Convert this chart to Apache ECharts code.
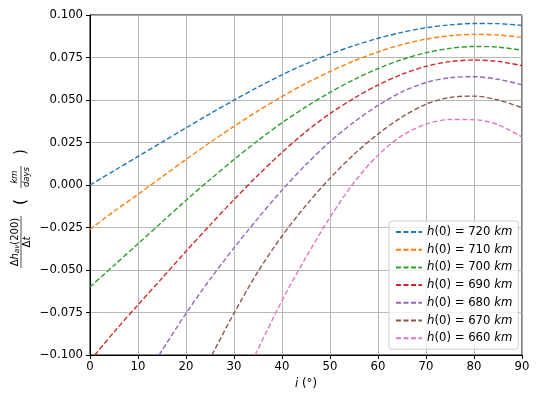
<!DOCTYPE html>
<html>
<head>
<meta charset="utf-8">
<script src="https://cdn.jsdelivr.net/npm/echarts@6/dist/echarts.min.js"></script>
<style>
html,body{margin:0;padding:0;background:#fff;}
#c{width:538px;height:398px;}
</style>
</head>
<body>
<div id="c"></div>
<script>
// ---- data ----
const angles = [0, 5, 10, 15, 20, 25, 30, 35, 40, 45, 50, 55, 60, 65, 70, 75, 80, 85, 90];
const heights = [720, 710, 700, 690, 680, 670, 660];
const h720 = [0.0000, 0.0084, 0.0168, 0.0252, 0.0336, 0.0419, 0.0499, 0.0576, 0.0648, 0.0713, 0.0770, 0.0820, 0.0863, 0.0898, 0.0925, 0.0942, 0.0950, 0.0949, 0.0939];
const h710 = [-0.0260, -0.0155, -0.0055, 0.0048, 0.0150, 0.0250, 0.0345, 0.0436, 0.0520, 0.0598, 0.0668, 0.0730, 0.0783, 0.0826, 0.0858, 0.0878, 0.0886, 0.0882, 0.0868];
const h700 = [-0.0600, -0.0473, -0.0346, -0.0218, -0.0090, 0.0032, 0.0150, 0.0262, 0.0366, 0.0460, 0.0545, 0.0620, 0.0685, 0.0738, 0.0778, 0.0804, 0.0815, 0.0811, 0.0793];
const h690 = [null, -0.0865, -0.0705, -0.0548, -0.0390, -0.0236, -0.0086, 0.0058, 0.0192, 0.0314, 0.0420, 0.0510, 0.0588, 0.0651, 0.0698, 0.0726, 0.0735, 0.0727, 0.0702];
const h680 = [null, null, null, null, -0.0755, -0.0555, -0.0370, -0.0195, -0.0030, 0.0120, 0.0255, 0.0370, 0.0468, 0.0548, 0.0603, 0.0631, 0.0637, 0.0622, 0.0590];
const h670 = [null, null, null, null, null, null, -0.0754, -0.0509, -0.0300, -0.0120, 0.0040, 0.0180, 0.0300, 0.0400, 0.0475, 0.0515, 0.0523, 0.0500, 0.0455];
const h660 = [null, null, null, null, null, null, null, null, -0.0680, -0.0425, -0.0190, 0.0015, 0.0175, 0.0290, 0.0358, 0.0385, 0.0384, 0.0355, 0.0282];
// angle where each curve enters through the bottom of the plot (y = -0.1)
const entryAngles = [null, null, null, 1.0, 14.4, 25.4, 34.4];
const bottomValue = -0.1;
const xTicks = { min: 0, max: 90, interval: 10 };
const yTicks = { min: -0.1, max: 0.1, interval: 0.025 };

const seriesValues = [h720, h710, h700, h690, h680, h670, h660];
const colors = ['#1f77b4', '#ff7f0e', '#2ca02c', '#d62728', '#9467bd', '#8c564b', '#e377c2'];
const FONT = 'DejaVu Sans';

const series = heights.map((h, s) => {
  const pts = [];
  if (entryAngles[s] !== null) pts.push([entryAngles[s], bottomValue]);
  angles.forEach((a, k) => { if (seriesValues[s][k] !== null) pts.push([a, seriesValues[s][k]]); });
  return {
    name: 'h(0) = ' + h + ' km',
    type: 'line',
    data: pts,
    smooth: 0.3,
    showSymbol: false,
    symbol: 'none',
    clip: true,
    lineStyle: { color: colors[s], width: 1.4, type: [5, 2.5] },
    itemStyle: { color: colors[s] },
    emphasis: { disabled: true }
  };
});

const chart = echarts.init(document.getElementById('c'), null, { renderer: 'canvas' });
const axisCommon = {
  axisLine: { show: true, onZero: false, lineStyle: { color: '#000', width: 1 } },
  axisTick: { show: true, inside: false, length: 4, lineStyle: { color: '#000', width: 1 } },
  splitLine: { show: true, lineStyle: { color: '#b0b0b0', width: 0.9 } },
  axisLabel: { color: '#000', fontSize: 11.7, fontFamily: FONT }
};

chart.setOption({
  animation: false,
  backgroundColor: '#fff',
  color: colors,
  grid: { left: 90, right: 16, top: 15, bottom: 43, show: true, borderColor: '#000', borderWidth: 1, backgroundColor: 'transparent' },
  xAxis: Object.assign({}, axisCommon, {
    type: 'value', min: xTicks.min, max: xTicks.max, interval: xTicks.interval,
    axisLabel: Object.assign({}, axisCommon.axisLabel, { margin: 6 }),
    name: '{it|i} (°)', nameLocation: 'middle', nameGap: 21,
    nameTextStyle: { color: '#000', fontSize: 11.7, fontFamily: FONT, rich: { it: { fontStyle: 'italic', fontSize: 11.7, fontFamily: FONT, color: '#000' } } }
  }),
  yAxis: Object.assign({}, axisCommon, {
    type: 'value', min: yTicks.min, max: yTicks.max, interval: yTicks.interval,
    axisLabel: Object.assign({}, axisCommon.axisLabel, {
      margin: 7,
      formatter: v => (Math.abs(v) < 1e-9 ? 0 : v).toFixed(3).replace('-', '\u2212')
    })
  }),
  legend: {
    orient: 'vertical', left: 389, top: 221,
    itemWidth: 26, itemHeight: 10, itemGap: 5.7, itemTextGap: 8,
    padding: [5, 6, 5, 6],
    backgroundColor: 'rgba(255,255,255,0.8)', borderColor: '#cccccc', borderWidth: 1, borderRadius: 3,
    itemStyle: { opacity: 0 },
    textStyle: { color: '#000', fontSize: 11.7, fontFamily: FONT,
      rich: { it: { fontStyle: 'italic', fontSize: 11.7, fontFamily: FONT, color: '#000' },
              n: { fontSize: 11.7, fontFamily: FONT, color: '#000' } } },
    formatter: name => {
      const m = name.match(/(\d+)/g);
      return '{it|h}{n|(0) = ' + m[1] + ' }{it|km}';
    },
    selectedMode: false,
    data: series.map(s => s.name)
  },
  graphic: [{
    type: 'group', x: 21, y: 210, rotation: Math.PI / 2, silent: true,
    children: [
      { type: 'text', x: -32, y: -6, style: {
          text: '{n|Δ}{i|h}{s|av}{n|(200)}', align: 'center', verticalAlign: 'middle',
          fill: '#000', font: '10px "DejaVu Sans"',
          rich: { n: { fontSize: 10, fontFamily: FONT, fill: '#000' },
                  i: { fontSize: 10, fontFamily: FONT, fontStyle: 'italic', fill: '#000' },
                  s: { fontSize: 7, fontFamily: FONT, fontStyle: 'italic', fill: '#000', verticalAlign: 'bottom', padding: [4, 0, 0, 0] } } } },
      { type: 'line', shape: { x1: -58, y1: 0, x2: -6, y2: 0 }, style: { stroke: '#000', lineWidth: 0.7 } },
      { type: 'text', x: -32, y: 6, style: {
          text: '{n|Δ}{i|t}', align: 'center', verticalAlign: 'middle', fill: '#000',
          rich: { n: { fontSize: 10, fontFamily: FONT, fill: '#000' },
                  i: { fontSize: 10, fontFamily: FONT, fontStyle: 'italic', fill: '#000' } } } },
      { type: 'text', x: 8, y: 0, style: { text: '(', align: 'center', verticalAlign: 'middle', fill: '#000', font: '15px "DejaVu Sans"' } },
      { type: 'text', x: 33, y: -6, style: { text: 'km', align: 'center', verticalAlign: 'middle', fill: '#000', font: 'italic 8.5px "DejaVu Sans"' } },
      { type: 'line', shape: { x1: 22, y1: 0, x2: 44, y2: 0 }, style: { stroke: '#000', lineWidth: 0.7 } },
      { type: 'text', x: 33, y: 6, style: { text: 'days', align: 'center', verticalAlign: 'middle', fill: '#000', font: 'italic 8.5px "DejaVu Sans"' } },
      { type: 'text', x: 58, y: 0, style: { text: ')', align: 'center', verticalAlign: 'middle', fill: '#000', font: '15px "DejaVu Sans"' } }
    ]
  }],
  series: series
});
</script>
</body>
</html>
